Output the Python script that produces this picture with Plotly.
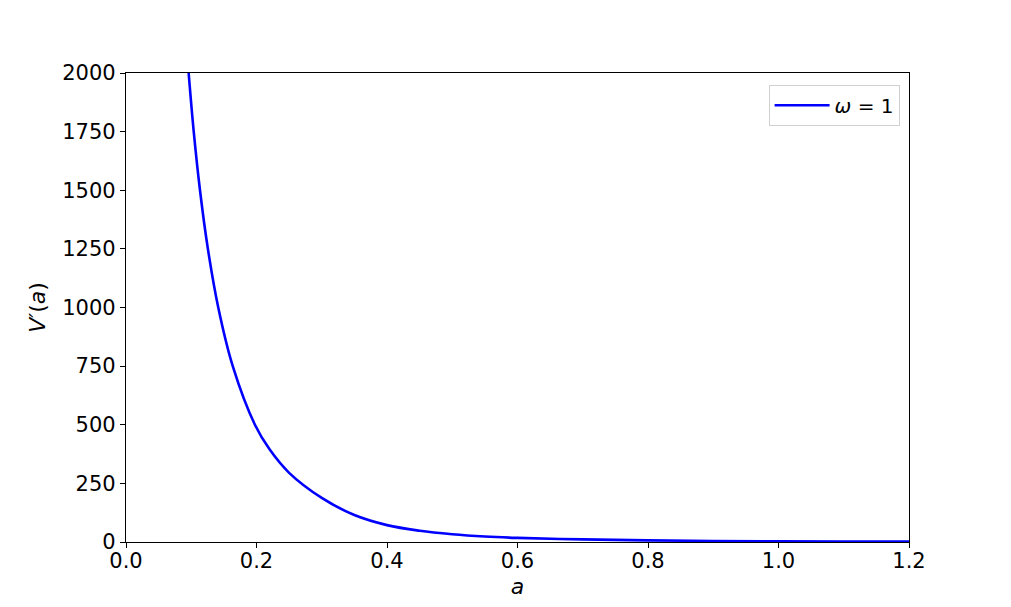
import plotly.graph_objects as go

a_vals = [0.096, 0.1038, 0.1134, 0.1255, 0.1414, 0.1636, 0.1976, 0.22, 0.25, 0.30,
          0.35, 0.40, 0.45, 0.50, 0.55, 0.60, 0.70, 0.80, 0.90, 1.0, 1.1, 1.2]
v_vals = [2000, 1750, 1500, 1250, 1000, 750, 500, 395, 295, 188,
          115, 72, 48, 33, 23.3, 17.5, 11, 7, 4.5, 3, 2, 1.4]

x_ticks = [0.0, 0.2, 0.4, 0.6, 0.8, 1.0, 1.2]
y_ticks = [0, 250, 500, 750, 1000, 1250, 1500, 1750, 2000]

font_family = "DejaVu Sans"

fig = go.Figure()
fig.add_trace(go.Scatter(
    x=a_vals, y=v_vals, mode="lines", name="<i>ω</i> = 1",
    line=dict(color="#0000ff", width=2.6, shape="spline", smoothing=1.0),
))

axis_common = dict(
    showline=True, linecolor="black", linewidth=1.2, mirror=True,
    ticks="outside", ticklen=5, tickwidth=1.2, tickcolor="black",
    showgrid=False, zeroline=False,
    tickfont=dict(family=font_family, size=21, color="black"),
)

fig.update_layout(
    width=1003, height=599,
    margin=dict(l=118, r=102, t=65, b=65),
    plot_bgcolor="white", paper_bgcolor="white",
    font=dict(family=font_family, size=21, color="black"),
    xaxis=dict(range=[0, 1.2], tickvals=x_ticks, tickformat=".1f", ticklabelstandoff=-5,
               title=dict(text="<i>a</i>", font=dict(size=22), standoff=6), **axis_common),
    yaxis=dict(range=[0, 2000], tickvals=y_ticks,
               title=dict(text="<i>V′</i>(<i>a</i>)", font=dict(size=22), standoff=10), **axis_common),
    showlegend=True,
    legend=dict(x=0.988, y=0.975, xanchor="right", yanchor="top", itemwidth=55,
                bordercolor="#d0d0d0", borderwidth=1, bgcolor="rgba(255,255,255,0.8)",
                font=dict(family=font_family, size=20)),
)

fig.write_html("out.html")
